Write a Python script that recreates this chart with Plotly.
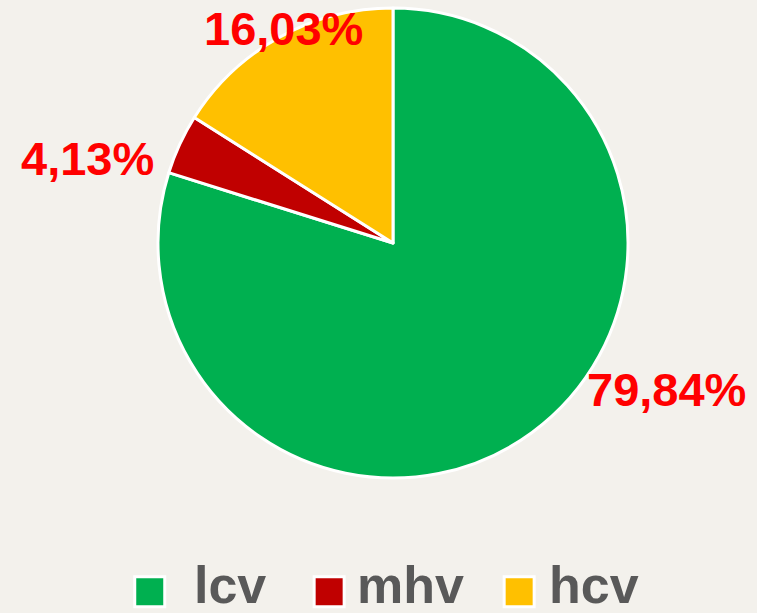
import plotly.graph_objects as go

# Vehicle category shares (%)
categories = ["lcv", "mhv", "hcv"]
shares = [79.84, 4.13, 16.03]
colors = ["#00B050", "#C00000", "#FFC000"]

# where the value labels sit (paper coords) and the legend row layout
label_pos = [(0.880, 0.364), (0.116, 0.741), (0.374, 0.954)]
legend_sq_x = [0.178, 0.415, 0.666]
legend_txt_x = [0.253, 0.469, 0.723]

BG = "#F3F1EC"

fig = go.Figure()
fig.add_trace(go.Pie(
    labels=categories,
    values=shares,
    sort=False,
    direction="clockwise",
    rotation=0,
    marker=dict(colors=colors, line=dict(color="white", width=3)),
    textinfo="none",
    hoverinfo="label+percent",
    showlegend=False,
    domain=dict(x=[0.2087, 0.8296], y=[0.220, 0.987]),
))

# percentage labels, text built from the data
for cat, val, (px_, py_) in zip(categories, shares, label_pos):
    fig.add_annotation(
        x=px_, y=py_, xref="paper", yref="paper",
        xanchor="center", yanchor="middle",
        text=f"{val:.2f}%".replace(".", ","),
        showarrow=False,
        font=dict(family="Liberation Sans, Arial", size=47, color="#FF0000", weight="bold"),
    )

# custom legend with large square swatches
sq = 30 / 757
sq_h = 30 / 613
for cat, col, sx, tx in zip(categories, colors, legend_sq_x, legend_txt_x):
    fig.add_shape(
        type="rect", xref="paper", yref="paper",
        x0=sx, x1=sx + sq, y0=0.010, y1=0.010 + sq_h,
        fillcolor=col, line=dict(color="white", width=3),
    )
    fig.add_annotation(
        x=tx, y=0.046, xref="paper", yref="paper",
        xanchor="left", yanchor="middle",
        text=cat, showarrow=False,
        font=dict(family="Liberation Sans, Arial", size=52, color="#595959", weight="bold"),
    )

fig.update_layout(
    width=757, height=613,
    margin=dict(l=0, r=0, t=0, b=0),
    paper_bgcolor=BG,
    plot_bgcolor=BG,
)

fig.write_html(
    "out.html",
    config={"displayModeBar": False},
    post_script="document.body.style.margin='0';document.body.style.background='%s';" % BG,
)
